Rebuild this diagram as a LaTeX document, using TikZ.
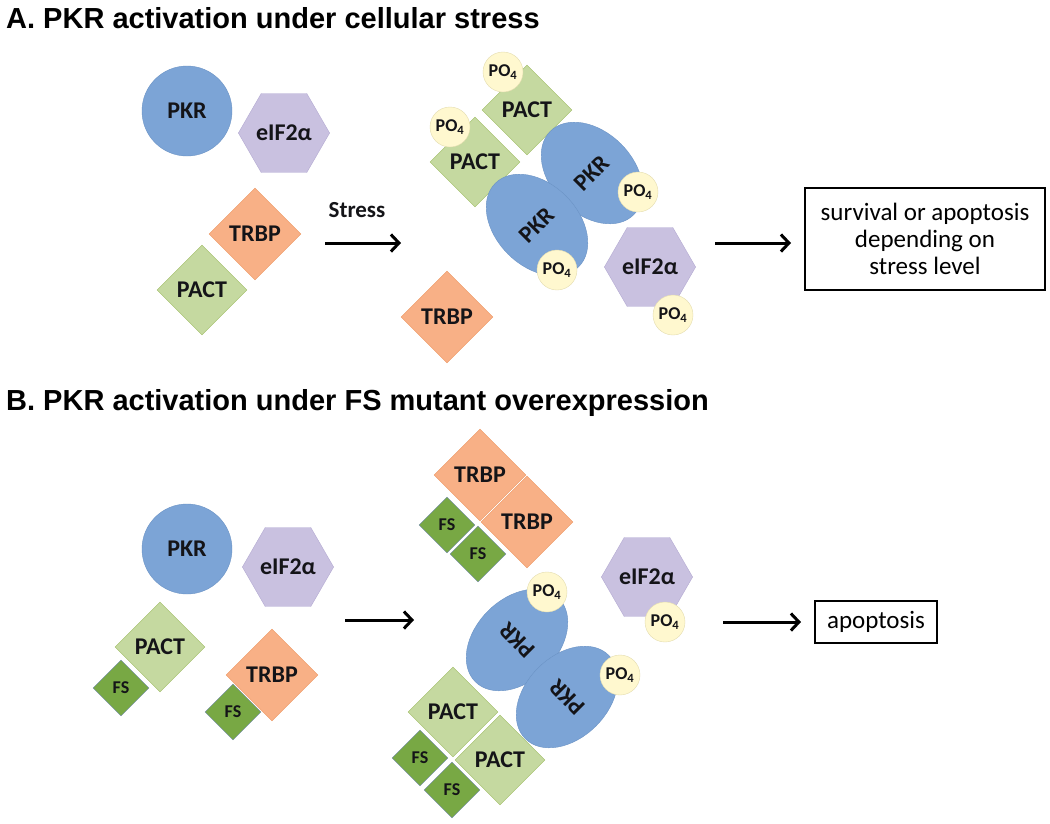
\documentclass[tikz,border=0pt]{standalone}
\usepackage{fontspec}
\setmainfont{Carlito}
\newfontfamily\titlefont{Liberation Sans}
\usetikzlibrary{shapes.geometric,arrows.meta}
\definecolor{pkrF}{HTML}{7CA4D6}
\definecolor{pkrD}{HTML}{6B93C5}
\definecolor{hexF}{HTML}{C9C1E0}
\definecolor{hexD}{HTML}{B4AAD2}
\definecolor{trF}{HTML}{F8B086}
\definecolor{trD}{HTML}{EC9560}
\definecolor{paF}{HTML}{C5D9A0}
\definecolor{paD}{HTML}{9DBB61}
\definecolor{fsF}{HTML}{78A844}
\definecolor{fsD}{HTML}{6D86A8}
\definecolor{poF}{HTML}{FFF8CF}
\definecolor{poD}{HTML}{E4DDB0}
\definecolor{txt}{HTML}{141418}
\begin{document}
\begin{tikzpicture}[x=1pt,y=-1pt,
  lbl/.style={font=\bfseries\fontsize{24}{26}\selectfont, text=txt},
  pkrc/.style={circle, draw=pkrD, fill=pkrF, minimum size=90, inner sep=0, lbl},
  pkre/.style={ellipse, draw=pkrD, fill=pkrF, minimum width=82, minimum height=118, inner sep=0, lbl},
  hexa/.style={regular polygon, regular polygon sides=6, minimum size=86, draw=hexD, fill=hexF, inner sep=0, lbl},
  trbp/.style={diamond, aspect=1, minimum width=92, minimum height=92, inner sep=0, draw=trD, fill=trF, lbl},
  pact/.style={diamond, aspect=1, minimum width=90, minimum height=90, inner sep=0, draw=paD, fill=paF, lbl},
  fsbox/.style={diamond, aspect=1, minimum width=56, minimum height=56, inner sep=0, draw=fsD, fill=fsF, text=txt, font=\bfseries\fontsize{18}{20}\selectfont},
  po/.style={circle, minimum size=40, inner sep=0, draw=poD, fill=poF, text=txt, font=\bfseries\fontsize{18}{20}\selectfont},
  arr/.style={line width=3, -{Straight Barb[length=8,width=17]}},
  ttl/.style={anchor=base west, inner sep=0, font=\titlefont\bfseries\fontsize{29}{32}\selectfont},
  outbox/.style={draw, line width=1.6, inner sep=4, align=center, font=\fontsize{25}{27}\selectfont}
]
\useasboundingbox[fill=white] (0,0) rectangle (1050,823);

% ---------- Panel A ----------
\node[ttl] (tA) at (6,28) {A. PKR activation under cellular stress};

\node[pkrc] (pkrA) at (187,111) {PKR};
\node[hexa] (eifA) at (284,133) {eIF2α};
\node[pact] (pactA) at (202,290) {PACT};
\node[trbp] (trbpA) at (255,234) {TRBP};

\node[font=\bfseries\fontsize{23}{25}\selectfont, text=txt] (stress) at (357,210) {Stress};
\coordinate (sa1) at (325,243);
\coordinate (sa2) at (401,243);
\draw[arr] (sa1) -- (sa2);

\node[pact] (pactA1) at (527,110) {PACT};
\node[pact] (pactA2) at (475,162) {PACT};
\node[po] (poA1) at (503,72) {PO\textsubscript{4}};
\node[po] (poA2) at (450,127) {PO\textsubscript{4}};
\node[pkre, rotate=45] (pkrA1) at (592,173) {PKR};
\node[pkre, rotate=45] (pkrA2) at (537,225) {PKR};
\node[po] (poA3) at (638,192) {PO\textsubscript{4}};
\node[po] (poA4) at (557,270) {PO\textsubscript{4}};
\node[hexa] (eifA2) at (650,267) {eIF2α};
\node[po] (poA5) at (673,315) {PO\textsubscript{4}};
\node[trbp] (trbpA2) at (447,317) {TRBP};

\node[outbox, minimum width=240, minimum height=102] (boxA) at (925,239)
  {survival or apoptosis\\depending on\\stress level};
\coordinate (aa1) at (715,243);
\coordinate (aa2) at (791,243);
\draw[arr] (aa1) -- (aa2);

% ---------- Panel B ----------
\node[ttl] (tB) at (6,410) {B. PKR activation under FS mutant overexpression};

\node[pkrc] (pkrB) at (187,549) {PKR};
\node[hexa] (eifB) at (288,567) {eIF2α};
\node[fsbox] (fsB0) at (121,688) {FS};
\node[pact] (pactB) at (160,647) {PACT};
\node[fsbox] (fsB00) at (233,712) {FS};
\node[trbp] (trbpB) at (272,675) {TRBP};

\coordinate (ba1) at (345,620);
\coordinate (ba2) at (414,620);
\draw[arr] (ba1) -- (ba2);

\node[fsbox] (fsB1) at (447,525) {FS};
\node[fsbox] (fsB2) at (478,554) {FS};
\node[trbp] (trbpB1) at (480,475) {TRBP};
\node[trbp] (trbpB2) at (527,522) {TRBP};

\node[pkre, rotate=135] (pkrB1) at (517,640) {PKR};
\node[pkre, rotate=135] (pkrB2) at (567,697) {PKR};
\node[po] (poB1) at (547,592) {PO\textsubscript{4}};
\node[po] (poB2) at (620,675) {PO\textsubscript{4}};
\node[hexa] (eifB2) at (647,577) {eIF2α};
\node[po] (poB3) at (665,622) {PO\textsubscript{4}};

\node[fsbox] (fsB3) at (420,758) {FS};
\node[fsbox] (fsB4) at (452,790) {FS};
\node[pact] (pactB1) at (453,712) {PACT};
\node[pact] (pactB2) at (500,760) {PACT};

\node[outbox, minimum width=122, minimum height=42] (boxB) at (876,622) {apoptosis};
\coordinate (bb1) at (723,622);
\coordinate (bb2) at (801,622);
\draw[arr] (bb1) -- (bb2);
\end{tikzpicture}
\end{document}
